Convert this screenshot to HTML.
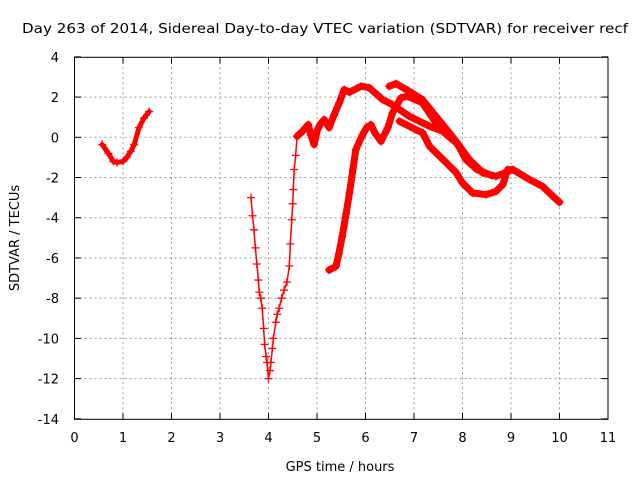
<!DOCTYPE html>
<html><head><meta charset="utf-8"><style>
body{margin:0;background:#fff;}
svg{display:block;font-family:"DejaVu Sans","Liberation Sans",sans-serif;}
</style></head><body>
<svg id="chart" width="640" height="480" viewBox="0 0 640 480">
<text x="22" y="33" font-size="13" textLength="606" lengthAdjust="spacingAndGlyphs" fill="#000">Day 263 of 2014, Sidereal Day-to-day VTEC variation (SDTVAR) for receiver recf</text>
<text x="340" y="471" font-size="13" text-anchor="middle">GPS time / hours</text>
<text transform="translate(19,238) rotate(-90)" font-size="13" text-anchor="middle">SDTVAR / TECUs</text>
<g id="grid"></g>
<g id="ticks"></g>
<g id="series"></g>
<rect x="74.5" y="57.3" width="533.5" height="362" fill="none" stroke="#000" stroke-width="1"/>
</svg>
<script>
const xTicks=[0,1,2,3,4,5,6,7,8,9,10,11];
const yTicks=[4,2,0,-2,-4,-6,-8,-10,-12,-14];
const trackA=[[0.57,-0.36],[0.7,-0.8],[0.8,-1.2],[0.88,-1.25],[1.0,-1.2],[1.08,-1.0],[1.16,-0.7],[1.23,-0.36],[1.33,0.48],[1.43,0.95],[1.54,1.28]];
const trackBdive=[[3.64,-3.0],[3.67,-3.9],[3.7,-4.6],[3.73,-5.5],[3.76,-6.3],[3.79,-7.1],[3.81,-7.7],[3.84,-8.0],[3.87,-8.5],[3.9,-9.5],[3.92,-10.3],[3.95,-10.9],[3.97,-11.2],[4.0,-12.0],[4.03,-11.6],[4.05,-11.2],[4.08,-10.5],[4.1,-10.0],[4.15,-9.2],[4.18,-8.8],[4.22,-8.5],[4.27,-8.0],[4.32,-7.6],[4.38,-7.2],[4.43,-6.4],[4.45,-5.3],[4.48,-4.1],[4.5,-3.3],[4.51,-2.6],[4.53,-1.6],[4.56,-0.9],[4.59,0.05]];
const trackBtop=[[4.59,0.05],[4.7,0.3],[4.82,0.63],[4.87,0.13],[4.94,-0.36],[5.01,0.38],[5.08,0.7],[5.15,0.88],[5.25,0.48],[5.35,1.1],[5.46,1.72],[5.56,2.37],[5.67,2.24],[5.8,2.4],[5.91,2.54],[6.08,2.46],[6.2,2.2],[6.35,1.88],[6.55,1.63],[6.9,1.05],[7.32,0.55],[7.59,0.3],[7.87,-0.2],[8.07,-1.11],[8.3,-1.6],[8.6,-1.9]];
const trackC=[[5.25,-6.6],[5.39,-6.42],[5.45,-5.8],[5.52,-4.93],[5.6,-3.8],[5.67,-2.76],[5.74,-1.6],[5.8,-0.61],[5.94,0.13],[6.03,0.5],[6.11,0.63],[6.2,0.2],[6.32,-0.2],[6.46,0.47],[6.56,1.23],[6.73,1.96],[6.87,2.04],[7.17,1.72],[7.45,0.73],[7.67,0.13],[7.87,-0.27],[8.14,-1.11],[8.42,-1.76],[8.69,-1.94],[9.04,-1.61],[9.38,-2.1],[9.65,-2.44],[9.85,-2.9],[10.0,-3.23]];
const trackD=[[6.49,2.54],[6.63,2.67],[6.9,2.29],[7.17,1.88],[7.45,1.05],[7.73,0.22],[7.94,-0.45],[8.14,-1.11],[8.42,-1.76]];
const trackF=[[6.7,0.8],[7.04,0.38],[7.18,0.22],[7.32,-0.45],[7.6,-1.11],[7.87,-1.76],[8.0,-2.27],[8.21,-2.77],[8.49,-2.85],[8.69,-2.69],[8.83,-2.35],[8.93,-1.61],[9.04,-1.61]];
const X0=74.5,XS=48.5,Y0=137.3,YS=20.11;
const sx=t=>X0+t*XS, sy=v=>Y0-v*YS;
const NS="http://www.w3.org/2000/svg";
const grid=document.getElementById('grid'),ticks=document.getElementById('ticks'),ser=document.getElementById('series');
function mk(tag,attrs,parent){const e=document.createElementNS(NS,tag);for(const k in attrs)e.setAttribute(k,attrs[k]);parent.appendChild(e);return e;}
xTicks.forEach(t=>{const x=sx(t);
 if(t>0&&t<11){const g=mk('line',{x1:x,x2:x,y1:57.3,y2:419.3,stroke:'#999','stroke-dasharray':'2,3'},grid);
 
 }
 const a=mk('line',{x1:x,x2:x,y1:419.3,y2:413,stroke:'#000'},ticks);
 const b=mk('line',{x1:x,x2:x,y1:57.3,y2:63.5,stroke:'#000'},ticks);
 const l=mk('text',{x:x,y:442,'font-size':13,'text-anchor':'middle'},ticks);l.textContent=t;
 
 });
yTicks.forEach(v=>{const y=sy(v);
 if(v<4&&v>-14){const g=mk('line',{x1:74.5,x2:608,y1:y,y2:y,stroke:'#999','stroke-dasharray':'2,3'},grid);
 
 }
 const a=mk('line',{x1:74.5,x2:81,y1:y,y2:y,stroke:'#000'},ticks);
 const b=mk('line',{x1:608,x2:601.5,y1:y,y2:y,stroke:'#000'},ticks);
 const l=mk('text',{x:59,y:y+5,'font-size':13,'text-anchor':'end'},ticks);l.textContent=v;
 
 });
function draw(track,name,w){
 if(w>0){const pts=track.map(p=>sx(p[0])+','+sy(p[1])).join(' ');
 const pl=mk('polyline',{points:pts,fill:'none',stroke:'#f00','stroke-width':w,'stroke-linejoin':'round','stroke-linecap':'round'},ser);
 
 }
 track.forEach(p=>{const x=sx(p[0]),y=sy(p[1]);
  const c=mk('path',{d:`M${x-4},${y}H${x+4}M${x},${y-4}V${y+4}`,stroke:'#f00','stroke-width':1.3},ser);
  
  });}
draw(trackA,'track-a',5);
draw(trackBdive,'track-b-dive',1.5);
draw(trackBtop,'track-b-top',7);
draw(trackC,'track-c',7);
draw(trackD,'track-d',7);
draw(trackF,'track-f',7);
</script>
</body></html>
